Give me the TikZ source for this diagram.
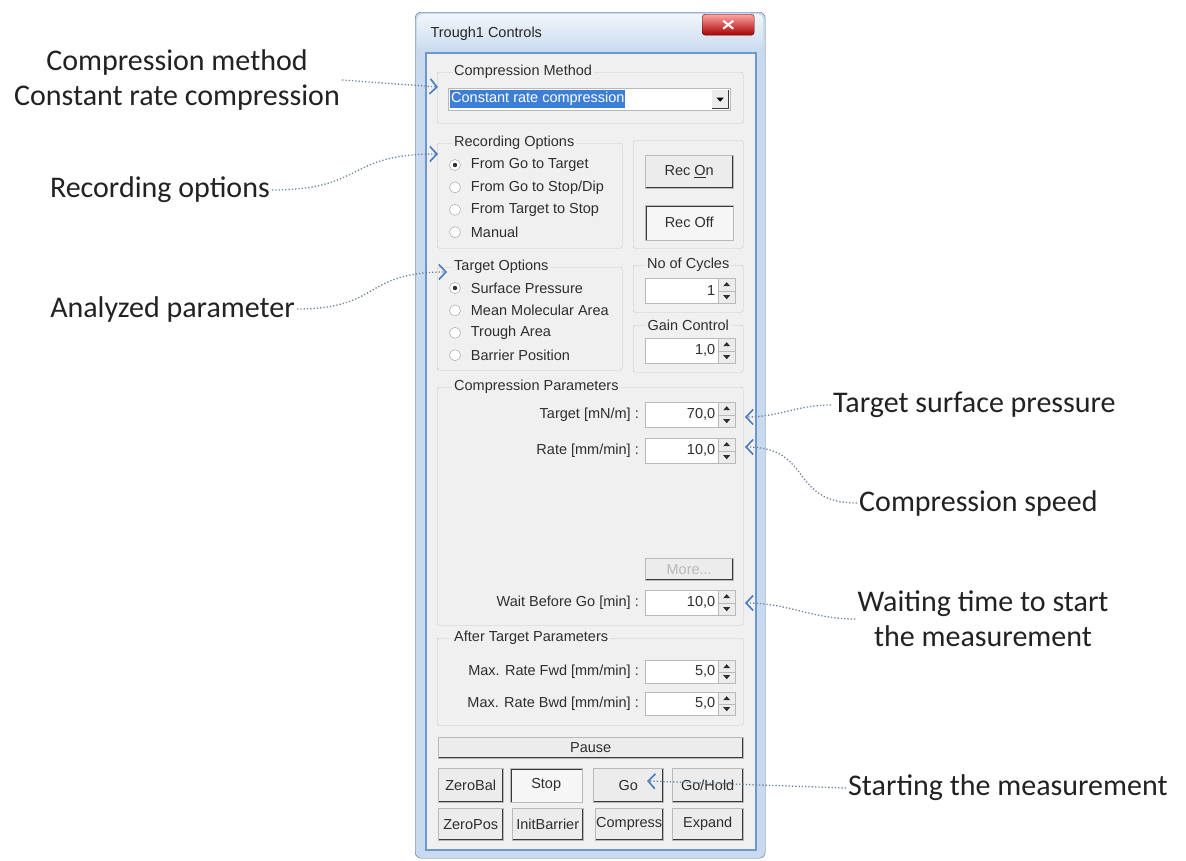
\documentclass[tikz,border=0pt]{standalone}
\usepackage{fontspec}
\setmainfont{Liberation Sans}
\newfontfamily\annfont{Carlito}
\usetikzlibrary{arrows.meta,positioning}
\definecolor{dlgbg}{HTML}{F0F0F0}
\definecolor{btnface}{HTML}{ECECEC}
\definecolor{dlgtext}{HTML}{2E2E2E}
\definecolor{grpline}{HTML}{C6C6C6}
\definecolor{framebg}{HTML}{C9DAEE}
\definecolor{frameedge}{HTML}{6C98D0}
\definecolor{selblue}{HTML}{3D7ED6}
\definecolor{anntext}{HTML}{222222}
\definecolor{annline}{HTML}{6F82A0}
\definecolor{anntip}{HTML}{4A7CC0}
\newcommand{\dlgfont}{\fontsize{14.5}{17}\selectfont}
\newcommand{\annsize}{\annfont\fontsize{30}{35}\selectfont}
\tikzset{
  sz/.style 2 args={minimum width=#1pt,minimum height=#2pt},
  grpbox/.style={draw=grpline,rounded corners=2pt,anchor=north west,inner sep=0pt},
  grplabel/.style={fill=dlgbg,font=\dlgfont,text=dlgtext,inner xsep=2pt,inner ysep=0pt},
  dlgtxt/.style={font=\dlgfont,text=dlgtext,inner sep=1pt},
  btnbox/.style={draw=gray!55,fill=btnface,font=\dlgfont,text=dlgtext,anchor=north west,inner sep=0pt,
    path picture={\draw[gray!45!black,line width=3pt]
      (path picture bounding box.south west) -- (path picture bounding box.south east)
      -- (path picture bounding box.north east);}},
  btnsunk/.style={draw=gray!55,fill=white!55!btnface,font=\dlgfont,text=dlgtext,anchor=north west,inner sep=0pt,
    path picture={\draw[gray!45!black,line width=3pt]
      (path picture bounding box.south west) -- (path picture bounding box.north west)
      -- (path picture bounding box.north east);}},
  spinbox/.style={draw=gray!55,fill=white,font=\dlgfont,text=dlgtext,anchor=north west,
    inner xsep=4pt,inner ysep=0pt,text width=82pt,align=right,minimum height=25pt,
    execute at end node={\hspace*{16pt}},
    path picture={
      \fill[btnface] ([xshift=-17pt]path picture bounding box.north east) rectangle (path picture bounding box.south east);
      \draw[gray!55] ([xshift=-17pt]path picture bounding box.north east) -- ([xshift=-17pt]path picture bounding box.south east);
      \draw[gray!55] ([xshift=-17pt]path picture bounding box.east) -- (path picture bounding box.east);
      \fill[dlgtext] ([xshift=-8.5pt,yshift=-4pt]path picture bounding box.north east) -- ++(3.5pt,-4pt) -- ++(-7pt,0pt) -- cycle;
      \fill[dlgtext] ([xshift=-8.5pt,yshift=4pt]path picture bounding box.south east) -- ++(3.5pt,4pt) -- ++(-7pt,0pt) -- cycle;
      \draw[gray!50!black,line width=2.5pt] (path picture bounding box.south west) -- (path picture bounding box.north west)
        -- (path picture bounding box.north east);}},
  combo/.style={draw=gray!55,fill=white,anchor=north west,inner sep=0pt,
    path picture={
      \draw[gray!50!black,line width=2.5pt] (path picture bounding box.south west) -- (path picture bounding box.north west)
        -- (path picture bounding box.north east);
      \fill[btnface] ([xshift=-18pt,yshift=-2pt]path picture bounding box.north east) rectangle ([xshift=-2pt,yshift=2pt]path picture bounding box.south east);
      \draw[gray!45!black] ([xshift=-18pt,yshift=2pt]path picture bounding box.south east) -- ([xshift=-2pt,yshift=2pt]path picture bounding box.south east)
        -- ([xshift=-2pt,yshift=-2pt]path picture bounding box.north east);
      \fill[black] ([xshift=-13.5pt,yshift=1.5pt]path picture bounding box.east) -- ++(7pt,0pt) -- ++(-3.5pt,-4pt) -- cycle;}},
  selbox/.style={fill=selblue,text=white,font=\dlgfont,inner xsep=1pt,inner ysep=0pt,minimum height=18pt},
  radio/.style={circle,draw=gray!80,fill=white,minimum size=11pt,inner sep=0pt},
  radioon/.style={radio,path picture={\fill[dlgtext] (path picture bounding box.center) circle (2.2pt);}},
  closebtn/.style={draw=red!35!black,rounded corners=3pt,top color=red!35!white,bottom color=red!65!black,
    inner sep=0pt,anchor=north west,
    path picture={
      \draw[white,line width=2pt] ([xshift=-5pt,yshift=4pt]path picture bounding box.center) -- ([xshift=5pt,yshift=-4pt]path picture bounding box.center);
      \draw[white,line width=2pt] ([xshift=-5pt,yshift=-4pt]path picture bounding box.center) -- ([xshift=5pt,yshift=4pt]path picture bounding box.center);}},
  annlabel/.style={font=\annsize,text=anntext,inner sep=2pt},
  annot/.style={draw=annline,dotted,line width=1.3pt,
    -{Straight Barb[length=7pt,width=15pt,line width=1.6pt,color=anntip]}}
}
\begin{document}
\begin{tikzpicture}[x=1pt,y=-1pt]
  \useasboundingbox (0,0) rectangle (1186,860);
  \fill[white] (0,0) rectangle (1186,860);

  % window
  \node[draw=frameedge!70!black,fill=framebg,rounded corners=6pt,sz={350}{846},anchor=north west,inner sep=0pt] (win) at (415,12) {};
  \node[top color=white!75!framebg,bottom color=framebg,sz={346}{38},anchor=north west,inner sep=0pt,rounded corners=5pt] (titlebar) at (417,14) {};
  \node[draw=frameedge,line width=2pt,fill=dlgbg,sz={330}{797},anchor=north west,inner sep=0pt] (client) at (425,52) {};
  \node[font=\dlgfont,text=black!85,anchor=west] (title) at (427,34) {Trough1 Controls};
  \node[closebtn,sz={52}{21}] (close) at (702,14) {};

  % compression method
  \node[grpbox,sz={306}{51}] (grpMethod) at (437,72) {};
  \node[grplabel,anchor=west] (lblMethod) at (452,72) {Compression Method};
  \node[combo,sz={282}{22}] (cbMethod) at (448,88) {};
  \node[selbox,anchor=west] (selMethod) at ([xshift=2pt]cbMethod.west) {Constant rate compression};

  % recording options
  \node[grpbox,sz={185}{105}] (grpRec) at (437,143) {};
  \node[grplabel,anchor=west] (lblRec) at (452,143) {Recording Options};
  \node[radioon] (rdRec1) at (455,165) {};
  \node[radio,below=11pt of rdRec1] (rdRec2) {};
  \node[radio,below=11pt of rdRec2] (rdRec3) {};
  \node[radio,below=11pt of rdRec3] (rdRec4) {};
  \node[dlgtxt,right=9pt of rdRec1] (txRec1) {From Go to Target};
  \node[dlgtxt,right=9pt of rdRec2] (txRec2) {From Go to Stop/Dip};
  \node[dlgtxt,right=9pt of rdRec3] (txRec3) {From Target to Stop};
  \node[dlgtxt,right=9pt of rdRec4] (txRec4) {Manual};

  \node[grpbox,sz={110}{108}] (grpRecBtn) at (633,140) {};
  \node[btnbox,sz={88}{33}] (btnRecOn) at (645,155) {Rec \underline{O}n};
  \node[btnsunk,sz={88}{35}] (btnRecOff) at (645,205) {Rec Off};

  % target options
  \node[grpbox,sz={185}{103}] (grpTgt) at (437,267) {};
  \node[grplabel,anchor=west] (lblTgt) at (452,267) {Target Options};
  \node[radioon] (rdTgt1) at (455,288) {};
  \node[radio,below=11pt of rdTgt1] (rdTgt2) {};
  \node[radio,below=11pt of rdTgt2] (rdTgt3) {};
  \node[radio,below=11pt of rdTgt3] (rdTgt4) {};
  \node[dlgtxt,right=9pt of rdTgt1] (txTgt1) {Surface Pressure};
  \node[dlgtxt,right=9pt of rdTgt2] (txTgt2) {Mean Molecular Area};
  \node[dlgtxt,right=9pt of rdTgt3] (txTgt3) {Trough Area};
  \node[dlgtxt,right=9pt of rdTgt4] (txTgt4) {Barrier Position};

  \node[grpbox,sz={110}{47}] (grpCyc) at (633,265) {};
  \node[grplabel] (lblCyc) at (grpCyc.north) {No of Cycles};
  \node[spinbox] (spCyc) at (645,278) {1};
  \node[grpbox,sz={110}{47}] (grpGain) at (633,325) {};
  \node[grplabel] (lblGain) at (grpGain.north) {Gain Control};
  \node[spinbox] (spGain) at (645,338) {1,0};

  % compression parameters
  \node[grpbox,sz={306}{238}] (grpComp) at (437,387) {};
  \node[grplabel,anchor=west] (lblComp) at (452,387) {Compression Parameters};
  \node[spinbox] (spTarget) at (645,402) {70,0};
  \node[dlgtxt,left=5pt of spTarget] (txTarget) {Target [mN/m] :};
  \node[spinbox] (spRate) at (645,438) {10,0};
  \node[dlgtxt,left=5pt of spRate] (txRate) {Rate [mm/min] :};
  \node[btnbox,sz={88}{22},text=gray!55] (btnMore) at (645,558) {More...};
  \node[spinbox] (spWait) at (645,590) {10,0};
  \node[dlgtxt,left=5pt of spWait] (txWait) {Wait Before Go [min] :};

  % after target parameters
  \node[grpbox,sz={306}{87}] (grpAfter) at (437,638) {};
  \node[grplabel,anchor=west] (lblAfter) at (452,638) {After Target Parameters};
  \node[spinbox,minimum height=23pt] (spFwd) at (645,660) {5,0};
  \node[dlgtxt,left=5pt of spFwd] (txFwd) {Max. Rate Fwd [mm/min] :};
  \node[spinbox,minimum height=23pt] (spBwd) at (645,692) {5,0};
  \node[dlgtxt,left=5pt of spBwd] (txBwd) {Max. Rate Bwd [mm/min] :};

  % buttons
  \node[btnbox,sz={305}{21}] (btnPause) at (438,737) {Pause};
  \node[btnbox,sz={65}{34}] (btnZeroBal) at (438,768) {ZeroBal};
  \node[btnsunk,sz={72}{34}] (btnStop) at (510,768) {Stop};
  \node[btnbox,sz={70}{34}] (btnGo) at (593,768) {Go};
  \node[btnbox,sz={71}{34}] (btnGoHold) at (672,768) {Go/Hold};
  \node[btnbox,sz={65}{32}] (btnZeroPos) at (438,808) {ZeroPos};
  \node[btnbox,sz={71}{32}] (btnInit) at (512,808) {InitBarrier};
  \node[btnbox,sz={68}{32}] (btnCompress) at (595,808) {Compress};
  \node[btnbox,sz={71}{32}] (btnExpand) at (672,808) {Expand};

  % annotations
  \node[annlabel,align=center] (annMethod) at (177,80) {Compression method\\Constant rate compression};
  \node[annlabel,anchor=east] (annRec) at (272,190) {Recording options};
  \node[annlabel,anchor=east] (annParam) at (297,309) {Analyzed parameter};
  \node[annlabel,anchor=west] (annTarget) at (831,405) {Target surface pressure};
  \node[annlabel,anchor=west] (annSpeed) at (857,503) {Compression speed};
  \node[annlabel,align=center] (annWait) at (983,619) {Waiting time to start\\the measurement};
  \node[annlabel,anchor=west] (annStart) at (846,788) {Starting the measurement};

  \coordinate (tipMethod) at (438,87);
  \coordinate (tipRec) at (438,154);
  \coordinate (tipParam) at (447,272);
  \coordinate (tipTarget) at (745,417);
  \coordinate (tipSpeed) at (745,447);
  \coordinate (tipWait) at (745,603);
  \coordinate (tipStart) at (647,781);

  \draw[annot] (annMethod.east) -- (tipMethod);
  \draw[annot] (annRec.east) to[out=0,in=180,looseness=1.4] (tipRec);
  \draw[annot] (annParam.east) to[out=0,in=180,looseness=1.4] (tipParam);
  \draw[annot] (annTarget.west) to[out=180,in=0] (tipTarget);
  \draw[annot] (annSpeed.west) to[out=180,in=0,looseness=1.4] (tipSpeed);
  \draw[annot] (annWait.west) to[out=180,in=0] (tipWait);
  \draw[annot] (annStart.west) -- (tipStart);

\end{tikzpicture}
\end{document}
